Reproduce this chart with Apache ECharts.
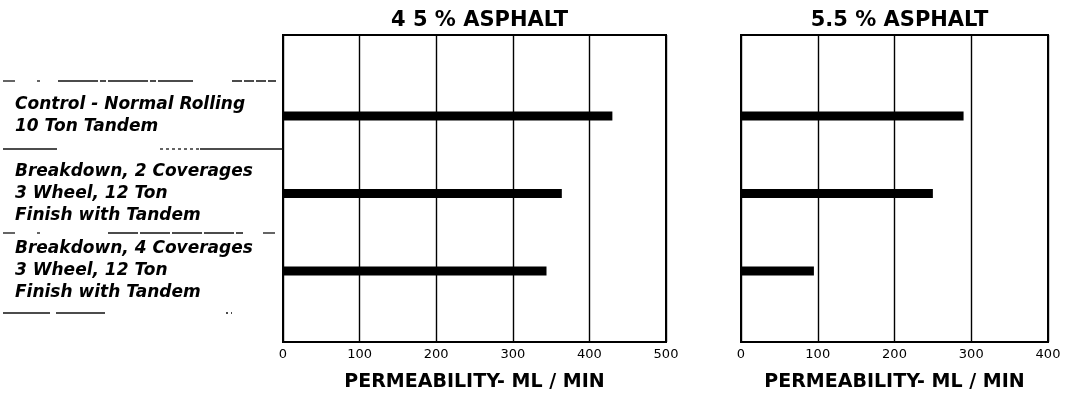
<!DOCTYPE html>
<html>
<head>
<meta charset="utf-8">
<script src="https://cdn.jsdelivr.net/npm/echarts@6/dist/echarts.min.js"></script>
<style>
  html, body { margin: 0; padding: 0; background: #fff; }
  #chart { width: 1073px; height: 393px; }
</style>
</head>
<body>
<div id="chart"></div>
<script>
// Rolling methods compared (one bar per method in each panel)
const methods = [
  'Control - Normal Rolling\n10 Ton Tandem',
  'Breakdown, 2 Coverages\n3 Wheel, 12 Ton\nFinish with Tandem',
  'Breakdown, 4 Coverages\n3 Wheel, 12 Ton\nFinish with Tandem'
];
// Permeability, ml/min
const permeability45 = [430, 364, 344];
const permeability55 = [290, 250, 95];
// Panel titles and axis setup
const panelTitles = ['4 5 % ASPHALT', '5.5 % ASPHALT'];
const axisTitle = 'PERMEABILITY- ML / MIN';
const axisMax45 = 500;
const axisMax55 = 400;
const tickStep = 100;

const ink = '#000';
const labelFont = { color: ink, fontFamily: 'DejaVu Sans', fontSize: 13 };

// Each panel: one framed grid carrying the value scale and gridlines,
// and one inner grid (same horizontal extent) that holds the bars.
const panels = [
  { left: 283, width: 383, max: axisMax45, values: permeability45, showCats: true },
  { left: 741, width: 307, max: axisMax55, values: permeability55, showCats: false }
];

const grid = [], xAxis = [], yAxis = [], series = [], title = [];
panels.forEach((p, i) => {
  const frameIdx = grid.length;
  grid.push({ left: p.left, width: p.width, top: 35, height: 307, show: true,
              outerBoundsMode: 'none', containLabel: false,
              borderColor: ink, borderWidth: 2, backgroundColor: 'transparent' });
  xAxis.push({
    gridIndex: frameIdx, type: 'value', min: 0, max: p.max, interval: tickStep,
    axisLine: { show: false }, axisTick: { show: false },
    axisLabel: Object.assign({ margin: 6 }, labelFont),
    splitLine: { show: true, lineStyle: { color: ink, width: 1.4 } },
    name: axisTitle, nameLocation: 'middle', nameGap: 31,
    nameTextStyle: { color: ink, fontFamily: 'DejaVu Sans', fontWeight: 'bold', fontSize: 19 }
  });
  yAxis.push({ gridIndex: frameIdx, type: 'value', show: false });

  const barIdx = grid.length;
  grid.push({ left: p.left, width: p.width, top: 116, height: 155,
              outerBoundsMode: 'none', containLabel: false });
  xAxis.push({ gridIndex: barIdx, type: 'value', min: 0, max: p.max, show: false });
  yAxis.push({
    gridIndex: barIdx, type: 'category', data: methods, inverse: true, boundaryGap: false,
    axisLine: { show: false }, axisTick: { show: false }, splitLine: { show: false },
    axisLabel: {
      show: p.showCats, align: 'left', margin: p.left - 15, lineHeight: 22,
      color: ink, fontFamily: 'DejaVu Sans', fontStyle: 'italic', fontWeight: 'bold', fontSize: 17
    }
  });
  series.push({
    type: 'bar', xAxisIndex: barIdx, yAxisIndex: barIdx, data: p.values,
    barWidth: 9, itemStyle: { color: ink }, silent: true, animation: false
  });
  title.push({
    text: panelTitles[i], left: p.left + p.width / 2, top: 5, textAlign: 'center',
    textStyle: { color: ink, fontFamily: 'DejaVu Sans', fontWeight: 'bold', fontSize: 21 }
  });
});

// Broken ruling lines that separate the method descriptions
const rule = (y, x1, x2, dash) => ({
  type: 'line', silent: true,
  shape: { x1: x1, y1: y, x2: x2, y2: y },
  style: { stroke: '#111', lineWidth: 1.3, lineDash: dash }
});
const graphic = [
  rule(81, 3, 15), rule(81, 37, 40), rule(81, 58, 193, [40, 2, 6, 2]), rule(81, 232, 276, [10, 2]),
  rule(149, 3, 57), rule(149, 160, 200, [3, 3]), rule(149, 200, 283),
  rule(233, 3, 15), rule(233, 37, 40), rule(233, 108, 243, [30, 2]), rule(233, 263, 275),
  rule(313, 3, 50), rule(313, 56, 105), rule(313, 226, 232, [2, 3])
];

const chart = echarts.init(document.getElementById('chart'), null, { renderer: 'canvas' });
chart.setOption({
  backgroundColor: '#fff',
  animation: false,
  title: title,
  grid: grid,
  xAxis: xAxis,
  yAxis: yAxis,
  series: series,
  graphic: graphic
});
</script>
</body>
</html>
